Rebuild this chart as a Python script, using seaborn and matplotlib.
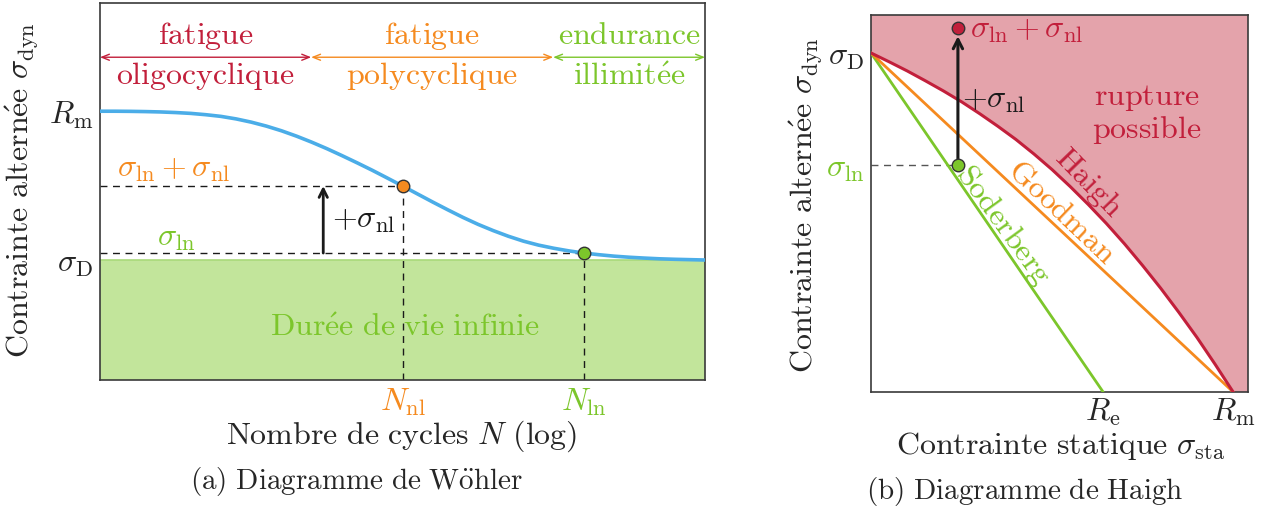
import matplotlib
matplotlib.use("Agg")
import matplotlib.pyplot as plt
import numpy as np
import pandas as pd
import seaborn as sns

# ---------------- Panel (a): Wöhler diagram ----------------
wohler_logN = [0.0, 0.25, 0.5, 0.75, 1.0, 1.25, 1.5, 1.75, 2.0, 2.25, 2.5, 2.75, 3.0, 3.25,
               3.5, 3.75, 4.0, 4.25, 4.5, 4.75, 5.0, 5.25, 5.5, 5.75, 6.0, 6.25, 6.5, 6.75,
               7.0, 7.25, 7.5, 7.75, 8.0, 8.25, 8.5, 8.75, 9.0, 9.25, 9.5, 9.75, 10.0]
wohler_sigma = [2.240, 2.240, 2.239, 2.237, 2.234, 2.229, 2.222, 2.211, 2.197, 2.176, 2.149,
                2.116, 2.077, 2.032, 1.982, 1.928, 1.870, 1.810, 1.748, 1.683, 1.617, 1.550,
                1.483, 1.418, 1.355, 1.297, 1.245, 1.198, 1.157, 1.124, 1.098, 1.076, 1.058,
                1.044, 1.032, 1.023, 1.016, 1.010, 1.006, 1.003, 1.0]
a_sigma_D = 1.0
a_R_m = 2.24
a_sigma_ln = 1.058
a_sigma_lnnl = 1.617
a_N_nl = 5.0
a_N_ln = 8.0
a_region_bounds = [0.0, 3.49, 7.49, 10.0]
a_region_top = ["fatigue", "fatigue", "endurance"]
a_region_bottom = ["oligocyclique", "polycyclique", r"illimit\acute{e}e"]

# ---------------- Panel (b): Haigh diagram ----------------
haigh_x = [0.0, 0.05, 0.1, 0.15, 0.2, 0.25, 0.3, 0.35, 0.4, 0.45, 0.5,
           0.55, 0.6, 0.65, 0.7, 0.75, 0.8, 0.85, 0.9, 0.95, 1.0]
haigh_y = [1.0, 0.974, 0.947, 0.918, 0.888, 0.856, 0.821, 0.784, 0.745, 0.702, 0.656,
           0.606, 0.553, 0.497, 0.437, 0.373, 0.306, 0.235, 0.161, 0.082, 0.0]
b_sigma_D = 1.0
b_R_m = 1.0
b_R_e = 0.641
b_sigma_ln = 0.670
b_sigma_lnnl = 1.074
b_point_x = 0.240
goodman_x = [0.0, b_R_m]
goodman_y = [b_sigma_D, 0.0]
soderberg_x = [0.0, b_R_e]
soderberg_y = [b_sigma_D, 0.0]

# ---------------- colours ----------------
RED = "#C21F3B"
RED_FILL = "#E4A3AB"
ORANGE = "#F58A1F"
GREEN = "#7CC62B"
GREEN_FILL = "#C2E59B"
BLUE = "#4BADE8"

sns.set_theme(style="white")
plt.rcParams["mathtext.fontset"] = "cm"
plt.rcParams["font.family"] = ["DejaVu Serif"]
plt.rcParams["axes.unicode_minus"] = False

FS = 23
FSC = 21


def rm(s):
    return r"$\mathrm{" + s.replace(" ", r"\ ") + "}$"


W, H = 1265, 507
fig = plt.figure(figsize=(W / 100, H / 100), dpi=100)
axa = fig.add_axes([100 / W, 1 - 380 / H, 605 / W, 377 / H])
axb = fig.add_axes([871 / W, 1 - 392 / H, 377 / W, 377 / H])

# ======== Panel a ========
axa.set_xlim(0, 10)
axa.set_ylim(0, 3.142)
axa.fill_between([0, 10], [0, 0], [a_sigma_D, a_sigma_D], color=GREEN_FILL, lw=0, zorder=1)
axa.plot([0, 10], [a_sigma_D, a_sigma_D], color="#A9D97A", lw=1.2, zorder=1.5)

dash = (0, (5, 4))
axa.plot([0, a_N_nl], [a_sigma_lnnl, a_sigma_lnnl], color="k", lw=1.0, ls=dash, zorder=2)
axa.plot([a_N_nl, a_N_nl], [0, a_sigma_lnnl], color="k", lw=1.0, ls=dash, zorder=2)
axa.plot([0, a_N_ln], [a_sigma_ln, a_sigma_ln], color="k", lw=1.0, ls=dash, zorder=2)
axa.plot([a_N_ln, a_N_ln], [0, a_sigma_ln], color="k", lw=1.0, ls=dash, zorder=2)

dfa = pd.DataFrame({"logN": wohler_logN, "sigma": wohler_sigma})
sns.lineplot(data=dfa, x="logN", y="sigma", ax=axa, color=BLUE, lw=2.6,
             estimator=None, sort=False, zorder=3)

axa.plot([a_N_nl], [a_sigma_lnnl], "o", ms=9, mfc=ORANGE, mec="#333333", mew=1.0, zorder=5)
axa.plot([a_N_ln], [a_sigma_ln], "o", ms=9, mfc=GREEN, mec="#333333", mew=1.0, zorder=5)

axa.annotate("", xy=(3.69, a_sigma_lnnl), xytext=(3.69, a_sigma_ln),
             arrowprops=dict(arrowstyle="->,head_length=0.5,head_width=0.25", lw=2.0,
                             color="k", shrinkA=0, shrinkB=0), zorder=4)
axa.text(3.83, 1.34, r"$+\sigma_{\mathrm{nl}}$", fontsize=FS, ha="left", va="center", color="k")
axa.text(0.28, 1.76, r"$\sigma_{\mathrm{ln}}+\sigma_{\mathrm{nl}}$", fontsize=FS,
         ha="left", va="center", color=ORANGE)
axa.text(1.26, 1.19, r"$\sigma_{\mathrm{ln}}$", fontsize=FS, ha="center", va="center", color=GREEN)
axa.text(5.04, 0.44, rm(r"Dur\acute{e}e de vie infinie"), fontsize=FS, ha="center",
         va="center", color=GREEN, zorder=2.5)

region_colors = [RED, ORANGE, GREEN]
for i in range(3):
    x0, x1 = a_region_bounds[i], a_region_bounds[i + 1]
    c = region_colors[i]
    axa.annotate("", xy=(x0, 2.69), xytext=(x1, 2.69),
                 arrowprops=dict(arrowstyle="<->,head_length=0.45,head_width=0.18", lw=1.0,
                                 color=c, shrinkA=0, shrinkB=0))
    xm = (x0 + x1) / 2
    axa.text(xm, 2.87, rm(a_region_top[i]), fontsize=FS, ha="center", va="center", color=c)
    axa.text(xm, 2.53, rm(a_region_bottom[i]), fontsize=FS, ha="center", va="center", color=c)

axa.set_yticks([a_sigma_D, a_R_m])
axa.set_yticklabels([r"$\sigma_{\mathrm{D}}$", r"$R_{\mathrm{m}}$"], fontsize=FS)
axa.set_xticks([a_N_nl, a_N_ln])
axa.set_xticklabels([r"$N_{\mathrm{nl}}$", r"$N_{\mathrm{ln}}$"], fontsize=FS)
for lbl, c in zip(axa.get_xticklabels(), [ORANGE, GREEN]):
    lbl.set_color(c)
axa.tick_params(direction="in", length=6, width=1.5, color="#8a8a8a", pad=5)
axa.set_xlabel("")
axa.set_ylabel("")
for sp in axa.spines.values():
    sp.set_color("#3a3a3a")
    sp.set_linewidth(1.2)
    sp.set_visible(True)

# ======== Panel b ========
axb.set_xlim(0, 1.041)
axb.set_ylim(0, 1.112)
poly_x = haigh_x + [1.041, 1.041, 0.0]
poly_y = haigh_y + [0.0, 1.112, 1.112]
axb.fill(poly_x, poly_y, color=RED_FILL, lw=0, zorder=1)

dfg = pd.DataFrame({"x": goodman_x, "y": goodman_y})
dfs = pd.DataFrame({"x": soderberg_x, "y": soderberg_y})
dfh = pd.DataFrame({"x": haigh_x, "y": haigh_y})
sns.lineplot(data=dfs, x="x", y="y", ax=axb, color=GREEN, lw=2.0, estimator=None, sort=False, zorder=3)
sns.lineplot(data=dfg, x="x", y="y", ax=axb, color=ORANGE, lw=2.0, estimator=None, sort=False, zorder=3)
sns.lineplot(data=dfh, x="x", y="y", ax=axb, color=RED, lw=2.2, estimator=None, sort=False, zorder=3)

axb.plot([0, b_point_x], [b_sigma_ln, b_sigma_ln], color="#555555", lw=1.0, ls=dash, zorder=2)
axb.annotate("", xy=(b_point_x, b_sigma_lnnl), xytext=(b_point_x, b_sigma_ln),
             arrowprops=dict(arrowstyle="->,head_length=0.55,head_width=0.28", lw=2.2,
                             color="k", shrinkA=0, shrinkB=6), zorder=4)
axb.plot([b_point_x], [b_sigma_ln], "o", ms=9, mfc=GREEN, mec="#333333", mew=1.0, zorder=5)
axb.plot([b_point_x], [b_sigma_lnnl], "o", ms=9, mfc=RED, mec="#333333", mew=1.0, zorder=5)

axb.text(0.273, 1.068, r"$\sigma_{\mathrm{ln}}+\sigma_{\mathrm{nl}}$", fontsize=FS,
         ha="left", va="center", color=RED)
axb.text(0.252, 0.862, r"$+\sigma_{\mathrm{nl}}$", fontsize=FS, ha="left", va="center", color="k")
axb.text(0.762, 0.87, rm("rupture"), fontsize=FS, ha="center", va="center", color=RED)
axb.text(0.762, 0.772, rm("possible"), fontsize=FS, ha="center", va="center", color=RED)
axb.text(0.60, 0.615, rm("Haigh"), fontsize=FS, ha="center", va="center", color=RED,
         rotation=-46, rotation_mode="anchor")
axb.text(0.528, 0.531, rm("Goodman"), fontsize=FS, ha="center", va="center", color=ORANGE,
         rotation=-43.5, rotation_mode="anchor")
axb.text(0.365, 0.493, rm("Soderberg"), fontsize=FS, ha="center", va="center", color=GREEN,
         rotation=-54, rotation_mode="anchor")

axb.set_yticks([b_sigma_ln, b_sigma_D])
axb.set_yticklabels([r"$\sigma_{\mathrm{ln}}$", r"$\sigma_{\mathrm{D}}$"], fontsize=FS)
axb.get_yticklabels()[0].set_color(GREEN)
axb.set_xticks([b_R_e, b_R_m])
axb.set_xticklabels([r"$R_{\mathrm{e}}$", r"$R_{\mathrm{m}}$"], fontsize=FS)
axb.tick_params(axis="y", direction="in", length=6, width=1.5, color="#8a8a8a", pad=5)
axb.tick_params(axis="x", direction="in", length=6, width=1.5, color="#8a8a8a", pad=3)
axb.set_xlabel("")
axb.set_ylabel("")
for sp in axb.spines.values():
    sp.set_color("#3a3a3a")
    sp.set_linewidth(1.2)
    sp.set_visible(True)

# ======== labels & captions ========
fig.text(22 / W, 1 - 190 / H, rm(r"Contrainte altern\acute{e}e") + r"$\ \sigma_{\mathrm{dyn}}$",
         rotation=90, ha="center", va="center", fontsize=FS)
fig.text(402 / W, 1 - 436 / H, rm("Nombre de cycles") + r"$\ N\ \mathrm{(log)}$",
         ha="center", va="center", fontsize=FS)
fig.text(357 / W, 1 - 481 / H, rm(r"(a) Diagramme de W\ddot{o}hler"),
         ha="center", va="center", fontsize=FSC)
fig.text(806 / W, 1 - 205 / H, rm(r"Contrainte altern\acute{e}e") + r"$\ \sigma_{\mathrm{dyn}}$",
         rotation=90, ha="center", va="center", fontsize=FS)
fig.text(1061 / W, 1 - 446 / H, rm("Contrainte statique") + r"$\ \sigma_{\mathrm{sta}}$",
         ha="center", va="center", fontsize=FS)
fig.text(1025 / W, 1 - 491 / H, rm("(b) Diagramme de Haigh"),
         ha="center", va="center", fontsize=FSC)

fig.savefig("out.png", dpi=100)
